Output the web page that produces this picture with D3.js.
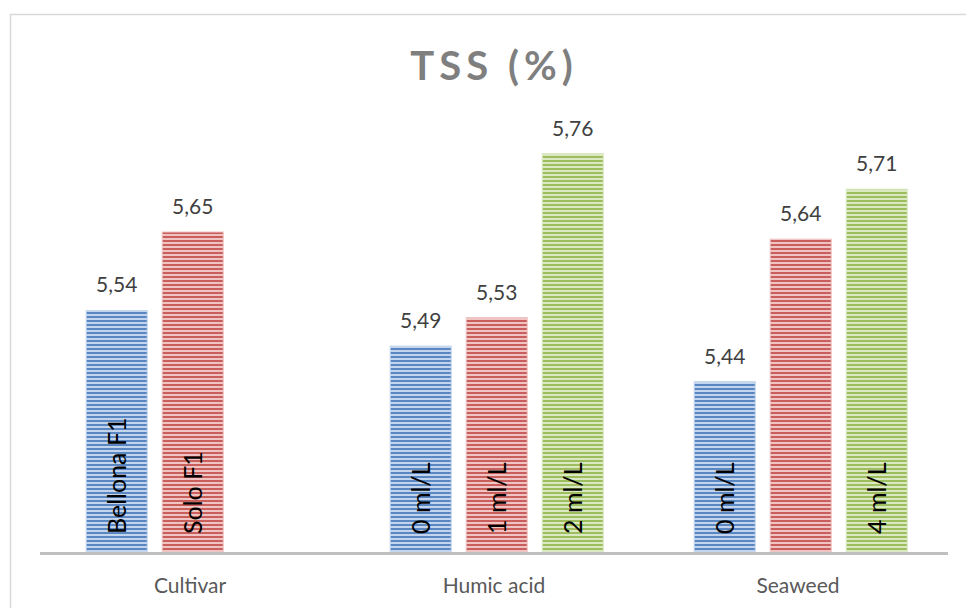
<!DOCTYPE html>
<html>
<head>
<meta charset="utf-8">
<script src="https://cdn.jsdelivr.net/npm/d3@7"></script>
<style>
  body { margin: 0; background: #fff; }
  svg text { font-family: Lato, "Open Sans", sans-serif; }
</style>
</head>
<body>
<div id="chart"></div>
<script>
// data
const groups = ["Cultivar", "Humic acid", "Seaweed"];
const levels = [
    ["Bellona F1", "Solo F1"],
    ["0 ml/L", "1 ml/L", "2 ml/L"],
    ["0 ml/L", "", "4 ml/L"]
];
const values = [
    [5.54, 5.65],
    [5.49, 5.53, 5.76],
    [5.44, 5.64, 5.71]
];
const seriesColors = [
    {dark: "#5a86c2", light: "#c3d5ec"},
    {dark: "#c95f5c", light: "#efc4c3"},
    {dark: "#9dbd5e", light: "#dbe9c2"}
];

const width = 966, height = 608;
const margin = {top: 125, right: 16, bottom: 55, left: 38};

const svg = d3.select("#chart")
    .append("svg")
    .attr("width", width)
    .attr("height", height);

// striped fills
const defs = svg.append("defs");
seriesColors.forEach((c, i) => {
    const p = defs.append("pattern")
        .attr("id", "stripe" + i)
        .attr("patternUnits", "userSpaceOnUse")
        .attr("width", 8).attr("height", 4);
    p.append("rect").attr("width", 8).attr("height", 4).attr("fill", c.light);
    p.append("rect").attr("width", 8).attr("height", 2).attr("fill", c.dark);
});

// chart border
svg.append("path")
    .attr("d", `M10.5,${height} V14.5 H${width}`)
    .attr("fill", "none")
    .attr("stroke", "#d9d9d9")
    .attr("stroke-width", 1.5);

const x = d3.scaleBand()
    .domain(groups)
    .range([margin.left, width - margin.right]);

const slot = d3.scaleBand()
    .domain([0, 1, 2])
    .range([0, x.bandwidth()])
    .paddingInner(0.197)
    .paddingOuter(0.598)
    .align(0.53);

const y = d3.scaleLinear()
    .domain([5.2, 5.8])
    .range([height - margin.bottom, margin.top]);

svg.append("text")
    .attr("x", 494)
    .attr("y", 80)
    .attr("text-anchor", "middle")
    .attr("font-size", 40)
    .attr("font-weight", "bold")
    .attr("letter-spacing", 5)
    .attr("fill", "#7f7f7f")
    .text("TSS (%)");

const bars = [];
groups.forEach((g, gi) => {
    values[gi].forEach((v, si) => {
        bars.push({group: g, series: si, value: v, label: levels[gi][si]});
    });
});

const gBars = svg.append("g");

gBars.selectAll("rect")
    .data(bars)
    .join("rect")
    .attr("x", d => x(d.group) + slot(d.series))
    .attr("y", d => y(d.value))
    .attr("width", slot.bandwidth())
    .attr("height", d => y(5.2) - y(d.value))
    .attr("fill", d => `url(#stripe${d.series})`)
    .attr("stroke", d => seriesColors[d.series].light)
    .attr("stroke-width", 1);

gBars.selectAll("text.value")
    .data(bars)
    .join("text")
    .attr("class", "value")
    .attr("x", d => x(d.group) + slot(d.series) + slot.bandwidth() / 2)
    .attr("y", d => y(d.value) - 18)
    .attr("text-anchor", "middle")
    .attr("font-size", 21)
    .attr("fill", "#404040")
    .text(d => d3.format(".2f")(d.value).replace(".", ","));

gBars.selectAll("text.level")
    .data(bars)
    .join("text")
    .attr("class", "level")
    .attr("transform", d => `translate(${x(d.group) + slot(d.series) + slot.bandwidth() / 2},534) rotate(-90)`)
    .attr("dy", "0.36em")
    .attr("font-size", 25)
    .attr("fill", "#000")
    .text(d => d.label);

// axis
svg.append("line")
    .attr("x1", margin.left + 2)
    .attr("x2", width - margin.right - 2)
    .attr("y1", y(5.2) + 0.5)
    .attr("y2", y(5.2) + 0.5)
    .attr("stroke", "#bfbfbf")
    .attr("stroke-width", 3);

svg.selectAll("text.cat")
    .data(groups)
    .join("text")
    .attr("class", "cat")
    .attr("x", d => x(d) + x.bandwidth() / 2)
    .attr("y", 593)
    .attr("text-anchor", "middle")
    .attr("font-size", 21)
    .attr("fill", "#595959")
    .text(d => d);
</script>
</body>
</html>
